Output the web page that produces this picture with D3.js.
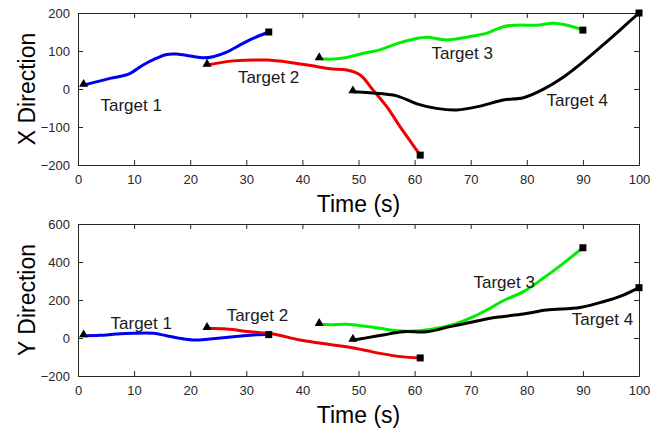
<!DOCTYPE html>
<html>
<head>
<meta charset="utf-8">
<script src="https://cdn.jsdelivr.net/npm/d3@7"></script>
<style>
  body { margin: 0; background: #fff; }
  svg { display: block; font-family: "Liberation Sans", Arial, sans-serif; }
</style>
</head>
<body>
<div id="chart"></div>
<script>
// time (s), value pairs
const xTarget1 = [[1,10],[5.7,28],[9,39],[11.6,63],[14,81],[15.8,91],[17.6,92],[20,87],[22.3,82],[24.1,85],[26.5,97],[28.9,116],[31.2,133],[34,150]];
const xTarget2 = [[23,63],[27.7,74],[33.6,76],[37.8,70],[42.5,59],[44.9,53],[47.9,50],[50.3,37],[52.6,-3],[55,-46],[57.4,-99],[59.5,-143],[61,-174]];
const xTarget3 = [[43,80],[44.9,78],[47.9,83],[50.9,94],[53.8,103],[57.4,122],[59.8,131],[62.2,136],[65.7,129],[69.9,138],[72.9,147],[75.8,164],[78.2,168],[81.8,168],[84.7,173],[87.7,166],[90,155]];
const xTarget4 = [[49,-7],[52,-10],[56.8,-18],[60.4,-39],[63.9,-51],[67.5,-55],[71.7,-45],[75.8,-29],[79.4,-23],[82.9,-1],[86.5,31],[90.1,72],[93.6,116],[96.6,155],[100,200]];

const yTarget1 = [[1,12],[3.9,14],[6.9,21],[9.9,25],[13.4,25],[15.8,12],[18.2,-2],[20.9,-11],[23.5,-5],[27.7,7],[31.2,16],[34,18]];
const yTarget2 = [[23,51],[26.5,47],[30.7,33],[34.8,21],[39.6,-11],[44.9,-34],[47.9,-46],[50.9,-63],[53.8,-81],[57.4,-98],[61,-105]];
const yTarget3 = [[43,72],[44.9,70],[47.9,72],[50.9,63],[53.8,51],[56.8,38],[61,38],[63.9,51],[67.5,77],[70.5,112],[73.4,156],[75.8,196],[79.4,244],[82.9,314],[86.5,393],[90,475]];
const yTarget4 = [[49,-11],[50.9,-2],[54.4,16],[58,33],[62.2,33],[66.3,60],[70.5,86],[74.6,109],[79.4,126],[83.5,147],[89.5,161],[93.6,191],[97.2,226],[100,265]];

const colors = ['#0000ee', '#ee0000', '#00ee00', '#000000'];
const targetNames = ['Target 1', 'Target 2', 'Target 3', 'Target 4'];
const timeTicks = [0, 10, 20, 30, 40, 50, 60, 70, 80, 90, 100];
const xDirTicks = [-200, -100, 0, 100, 200];
const yDirTicks = [-200, 0, 200, 400, 600];

// label anchor points in data units (time, value)
const xLabelPos = [[4, -57], [28.5, 17], [63, 78], [83.5, -45]];
const yLabelPos = [[5.8, 45], [26.5, 90], [70.5, 265], [88, 66]];

const width = 672, height = 433;
const svg = d3.select('#chart').append('svg')
  .attr('width', width)
  .attr('height', height);

const ink = '#262626';

function drawPanel(opts) {
  const g = svg.append('g');
  const x = d3.scaleLinear().domain([0, 100]).range([78, 639]);
  const y = d3.scaleLinear().domain(opts.domain).range([opts.bottom, opts.top]);

  g.append('g')
    .attr('transform', `translate(0,${opts.bottom})`)
    .call(d3.axisBottom(x).tickValues(timeTicks).tickSizeInner(-5).tickSizeOuter(0).tickPadding(10));
  g.append('g')
    .attr('transform', `translate(0,${opts.top})`)
    .call(d3.axisTop(x).tickValues(timeTicks).tickSizeInner(-5).tickSizeOuter(0).tickFormat(''));
  g.append('g')
    .attr('transform', 'translate(78,0)')
    .call(d3.axisLeft(y).tickValues(opts.ticks).tickSizeInner(-5).tickSizeOuter(0).tickPadding(8));
  g.append('g')
    .attr('transform', 'translate(639,0)')
    .call(d3.axisRight(y).tickValues(opts.ticks).tickSizeInner(-5).tickSizeOuter(0).tickFormat(''));

  g.selectAll('.domain, .tick line').attr('stroke', ink).attr('stroke-width', 1);
  g.selectAll('.tick text').attr('fill', ink).style('font-size', '13px')
    .style('font-family', '"Liberation Sans", Arial, sans-serif');

  const line = d3.line().x(d => x(d[0])).y(d => y(d[1])).curve(d3.curveCatmullRom);

  opts.series.forEach((s, i) => {
    g.append('path')
      .datum(s)
      .attr('fill', 'none')
      .attr('stroke', colors[i])
      .attr('stroke-width', 3)
      .attr('stroke-linejoin', 'round')
      .attr('d', line);
  });

  // start triangle, end square
  opts.series.forEach(s => {
    const a = s[0], b = s[s.length - 1];
    g.append('path')
      .attr('d', d3.symbol(d3.symbolTriangle, 36)())
      .attr('transform', `translate(${x(a[0])},${y(a[1]) - 1})`)
      .attr('fill', '#000');
    g.append('rect')
      .attr('x', x(b[0]) - 3.5)
      .attr('y', y(b[1]) - 3.5)
      .attr('width', 7)
      .attr('height', 7)
      .attr('fill', '#000');
  });

  opts.labels.forEach((p, i) => {
    g.append('text')
      .attr('x', x(p[0]))
      .attr('y', y(p[1]))
      .attr('fill', '#1a1a1a')
      .style('font-size', '17px')
      .text(targetNames[i]);
  });

  g.append('text')
    .attr('text-anchor', 'middle')
    .attr('x', (78 + 639) / 2)
    .attr('y', opts.bottom + 47)
    .attr('fill', '#000')
    .style('font-size', '23px')
    .text('Time (s)');

  g.append('text')
    .attr('text-anchor', 'middle')
    .attr('transform', `translate(35,${(opts.top + opts.bottom) / 2}) rotate(-90)`)
    .attr('fill', '#000')
    .style('font-size', '23px')
    .text(opts.ylabel);
}

drawPanel({
  top: 13, bottom: 165, domain: [-200, 200], ticks: xDirTicks,
  series: [xTarget1, xTarget2, xTarget3, xTarget4], labels: xLabelPos, ylabel: 'X Direction'
});
drawPanel({
  top: 224, bottom: 376, domain: [-200, 600], ticks: yDirTicks,
  series: [yTarget1, yTarget2, yTarget3, yTarget4], labels: yLabelPos, ylabel: 'Y Direction'
});
</script>
</body>
</html>
